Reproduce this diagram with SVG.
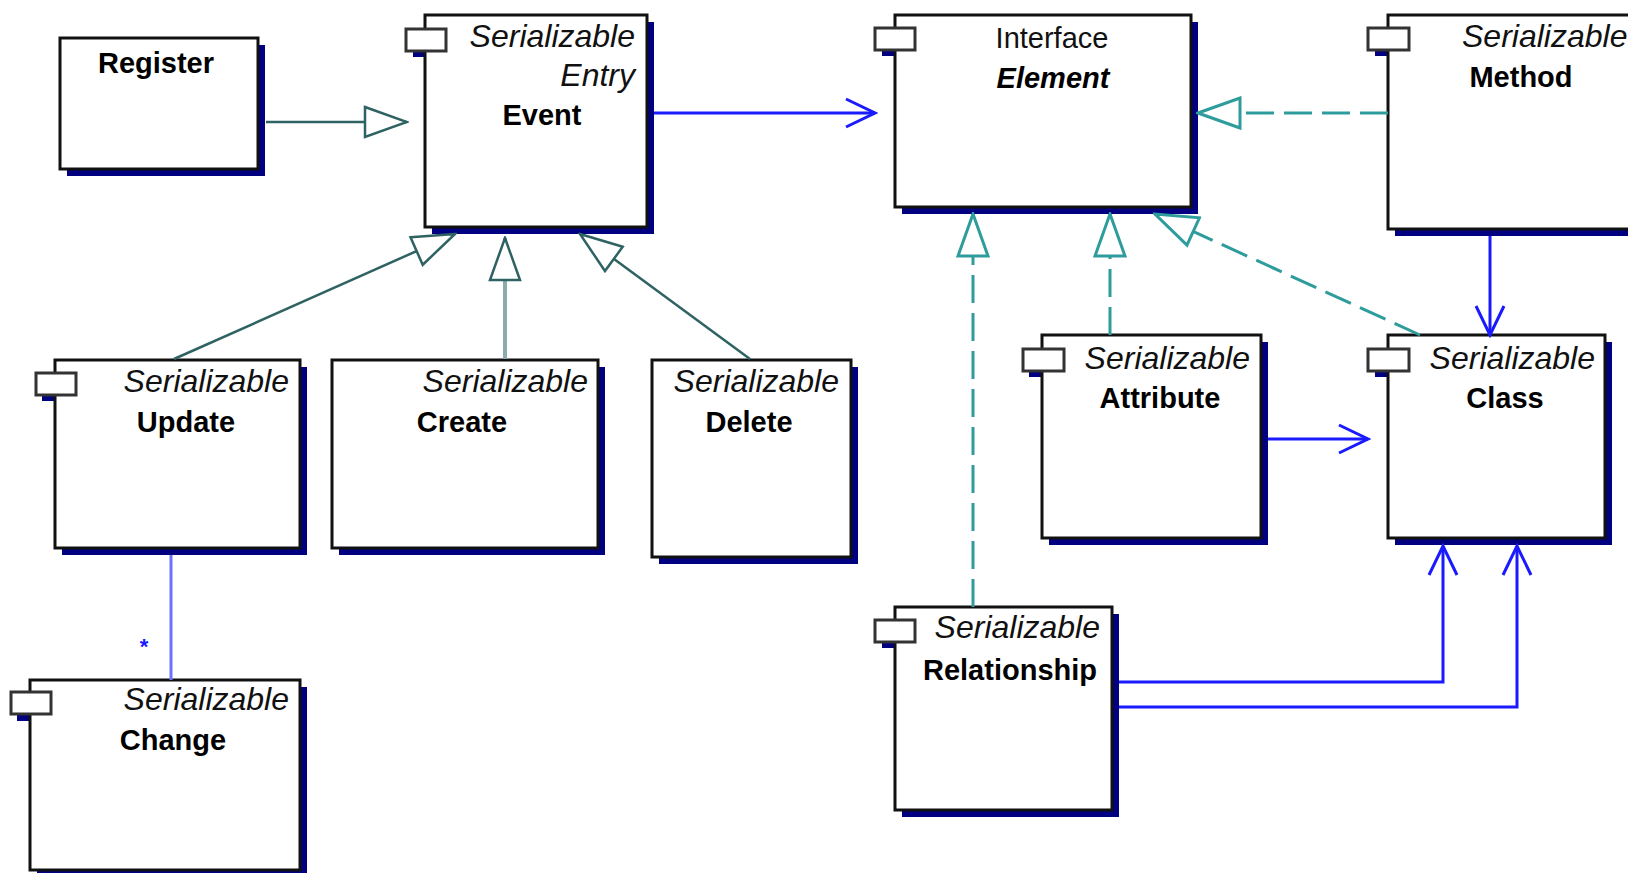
<svg xmlns="http://www.w3.org/2000/svg" width="1628" height="873" viewBox="0 0 1628 873">
<style>
.bg{fill:#fff}
.sh{fill:#000080}
.bx{fill:#fff;stroke:#111;stroke-width:3}
.tab{fill:#fff;stroke:#333;stroke-width:3}
.st{font-family:"Liberation Sans",Arial,sans-serif;font-style:italic;font-size:32px;text-anchor:end;fill:#111}
.nm{font-family:"Liberation Sans",Arial,sans-serif;font-weight:bold;font-size:29px;text-anchor:middle;fill:#000}
.rg{font-family:"Liberation Sans",Arial,sans-serif;font-size:29px;text-anchor:middle;fill:#111}
.gen{fill:none;stroke:#2f6262;stroke-width:2.5}
.genc{fill:none;stroke:#8aacac;stroke-width:4}
.real{fill:none;stroke:#2e9c9c;stroke-width:3;stroke-dasharray:28 10}
.asc{fill:none;stroke:#1a1aff;stroke-width:3}
.asl{fill:none;stroke:#7070ff;stroke-width:3}
</style>
<defs>
<marker id="tri" markerUnits="userSpaceOnUse" viewBox="0 0 46 34" refX="44" refY="17" markerWidth="46" markerHeight="34" orient="auto">
<path d="M2,2 L44,17 L2,32 Z" fill="#fff" stroke="#2f6262" stroke-width="2.5"/>
</marker>
<marker id="trir" markerUnits="userSpaceOnUse" viewBox="0 0 46 34" refX="44" refY="17" markerWidth="46" markerHeight="34" orient="auto">
<path d="M2,2 L44,17 L2,32 Z" fill="#fff" stroke="#2e9c9c" stroke-width="3"/>
</marker>
<marker id="open" markerUnits="userSpaceOnUse" viewBox="0 0 34 32" refX="31" refY="16" markerWidth="34" markerHeight="32" orient="auto">
<path d="M2,2 L31,16 L2,30" fill="none" stroke="#1a1aff" stroke-width="3"/>
</marker>
</defs>
<rect class="bg" x="0" y="0" width="1628" height="873"/>

<g id="node-register">
<rect class="sh" x="67" y="45" width="198" height="131"/>
<rect class="bx" x="60" y="38" width="198" height="131"/>
<text class="nm" x="156" y="73">Register</text>
</g>

<g id="node-event">
<rect class="sh" x="432" y="22" width="222" height="212"/>
<rect class="sh" x="413" y="35" width="40" height="22"/>
<rect class="bx" x="425" y="15" width="222" height="212"/>
<rect class="tab" x="406" y="29" width="40" height="22"/>
<text class="st" x="635" y="47">Serializable</text>
<text class="st" x="635" y="86">Entry</text>
<text class="nm" x="542" y="125">Event</text>
</g>

<g id="node-element">
<rect class="sh" x="902" y="22" width="296" height="192"/>
<rect class="sh" x="882" y="34" width="40" height="22"/>
<rect class="bx" x="895" y="15" width="296" height="192"/>
<rect class="tab" x="875" y="28" width="40" height="22"/>
<text class="rg" x="1052" y="48">Interface</text>
<text class="nm" x="1053" y="88" style="font-style:italic">Element</text>
</g>

<g id="node-method">
<rect class="sh" x="1395" y="22" width="260" height="214"/>
<rect class="sh" x="1375" y="34" width="40" height="22"/>
<rect class="bx" x="1388" y="15" width="260" height="214"/>
<rect class="tab" x="1368" y="28" width="41" height="22"/>
<text class="st" x="1462" y="47" style="text-anchor:start">Serializable</text>
<text class="nm" x="1521" y="87">Method</text>
</g>

<g id="node-update">
<rect class="sh" x="62" y="367" width="245" height="188"/>
<rect class="sh" x="42" y="379" width="40" height="22"/>
<rect class="bx" x="55" y="360" width="245" height="188"/>
<rect class="tab" x="36" y="373" width="40" height="22"/>
<text class="st" x="289" y="392">Serializable</text>
<text class="nm" x="186" y="432">Update</text>
</g>

<g id="node-create">
<rect class="sh" x="339" y="367" width="266" height="188"/>
<rect class="bx" x="332" y="360" width="266" height="188"/>
<text class="st" x="588" y="392">Serializable</text>
<text class="nm" x="462" y="432">Create</text>
</g>

<g id="node-delete">
<rect class="sh" x="659" y="367" width="199" height="197"/>
<rect class="bx" x="652" y="360" width="199" height="197"/>
<text class="st" x="839" y="392">Serializable</text>
<text class="nm" x="749" y="432">Delete</text>
</g>

<g id="node-change">
<rect class="sh" x="37" y="687" width="270" height="190"/>
<rect class="sh" x="17" y="699" width="40" height="22"/>
<rect class="bx" x="30" y="680" width="270" height="190"/>
<rect class="tab" x="11" y="692" width="40" height="22"/>
<text class="st" x="289" y="710">Serializable</text>
<text class="nm" x="173" y="750">Change</text>
</g>

<g id="node-attribute">
<rect class="sh" x="1049" y="342" width="219" height="203"/>
<rect class="sh" x="1029" y="355" width="40" height="22"/>
<rect class="bx" x="1042" y="335" width="219" height="203"/>
<rect class="tab" x="1023" y="349" width="41" height="22"/>
<text class="st" x="1250" y="369">Serializable</text>
<text class="nm" x="1160" y="408">Attribute</text>
</g>

<g id="node-class">
<rect class="sh" x="1395" y="342" width="217" height="203"/>
<rect class="sh" x="1375" y="355" width="40" height="22"/>
<rect class="bx" x="1388" y="335" width="217" height="203"/>
<rect class="tab" x="1368" y="349" width="41" height="22"/>
<text class="st" x="1595" y="369">Serializable</text>
<text class="nm" x="1505" y="408">Class</text>
</g>

<g id="node-relationship">
<rect class="sh" x="902" y="614" width="217" height="203"/>
<rect class="sh" x="882" y="626" width="40" height="22"/>
<rect class="bx" x="895" y="607" width="217" height="203"/>
<rect class="tab" x="875" y="620" width="40" height="22"/>
<text class="st" x="1100" y="638">Serializable</text>
<text class="nm" x="1010" y="680">Relationship</text>
</g>

<g id="connectors">
<path class="gen" d="M266,122 L407,122" marker-end="url(#tri)"/>
<path class="genc" d="M505,359 L505,238" marker-end="url(#tri)"/>
<path class="gen" d="M174,359 L455,234" marker-end="url(#tri)"/>
<path class="gen" d="M750,359 L580,234" marker-end="url(#tri)"/>
<path class="asc" d="M654,113 L875,113" marker-end="url(#open)"/>
<path class="real" d="M1388,113 L1198,113" marker-end="url(#trir)"/>
<path class="real" d="M973,607 L973,214" marker-end="url(#trir)"/>
<path class="real" d="M1110,335 L1110,214" marker-end="url(#trir)"/>
<path class="real" d="M1420,335 L1155,214" marker-end="url(#trir)"/>
<path class="asc" d="M1490,236 L1490,335" marker-end="url(#open)"/>
<path class="asc" d="M1268,439 L1368,439" marker-end="url(#open)"/>
<path class="asc" d="M1119,682 L1443,682 L1443,546" marker-end="url(#open)"/>
<path class="asc" d="M1119,707 L1517,707 L1517,546" marker-end="url(#open)"/>
<path class="asl" d="M171,555 L171,680"/>
<text x="144" y="654" font-family="Liberation Sans,Arial,sans-serif" font-size="22" font-weight="bold" fill="#1a1aff" text-anchor="middle">*</text>
</g>
</svg>
